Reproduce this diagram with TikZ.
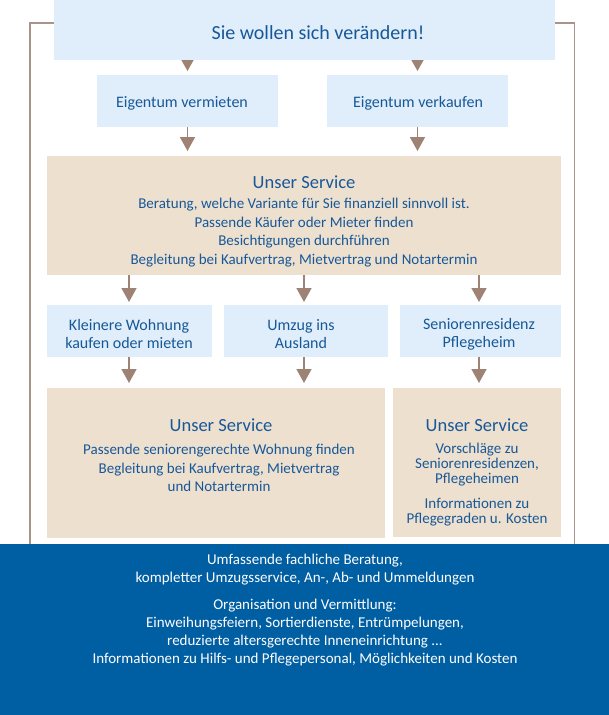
\documentclass[tikz,border=0pt]{standalone}
\usepackage{fontspec}
\setmainfont{Carlito}
\usetikzlibrary{arrows.meta}
\definecolor{lblue}{RGB}{223,238,250}
\definecolor{beige}{RGB}{237,224,207}
\definecolor{tblue}{RGB}{24,88,152}
\definecolor{dblue}{RGB}{0,94,162}
\definecolor{arr}{RGB}{158,131,116}
\definecolor{brk}{RGB}{168,148,136}
\begin{document}
\begin{tikzpicture}[x=1pt,y=-1pt,
  box/.style={inner sep=0pt, outer sep=0pt, anchor=north west},
  lbbox/.style={box, fill=lblue},
  bgbox/.style={box, fill=beige},
  txt/.style={text=tblue, align=center, inner sep=0pt},
  ttitle/.style={txt, font=\fontsize{20}{24}\selectfont},
  tmid/.style={txt, font=\fontsize{16}{18}\selectfont},
  tserv/.style={txt, font=\fontsize{18.5}{22}\selectfont},
  tbody/.style={txt, font=\fontsize{15}{18.5}\selectfont},
  ttight/.style={txt, font=\fontsize{15}{15}\selectfont},
  twhite/.style={align=center, inner sep=0pt, text=white, font=\fontsize{15}{18}\selectfont},
  headonly/.style={draw=arr, line width=1.5pt, -{Triangle[length=11pt,width=12pt]}},
  stemarrow/.style={draw=arr, line width=1.6pt, -{Triangle[length=14pt,width=15pt]}},
  bracket/.style={draw=brk, line width=1.6pt}
]
\useasboundingbox (0,0) rectangle (609,715);
\fill[white] (0,0) rectangle (609,715);
% boxes
\node[lbbox, minimum width=501pt, minimum height=60pt] (top) at (54,0) {};
\node[lbbox, minimum width=181pt, minimum height=52pt] (ev) at (97,75) {};
\node[lbbox, minimum width=181pt, minimum height=52pt] (ek) at (327,75) {};
\node[bgbox, minimum width=514pt, minimum height=119pt] (s1) at (47,156) {};
\node[lbbox, minimum width=165pt, minimum height=52pt] (ra) at (47,305) {};
\node[lbbox, minimum width=164pt, minimum height=52pt] (rb) at (224,305) {};
\node[lbbox, minimum width=161pt, minimum height=52pt] (rc) at (400,305) {};
\node[bgbox, minimum width=338pt, minimum height=150pt] (s2) at (47,388) {};
\node[bgbox, minimum width=168pt, minimum height=149pt] (s3) at (393,388) {};
\node[box, fill=dblue, minimum width=609pt, minimum height=171pt] (bot) at (0,544) {};
% bracket
\coordinate (bl) at (30,22.7);
\coordinate (br) at (574.3,22.7);
\draw[bracket] (bot.north -| bl) -- (bl) -- (bl -| top.west);
\draw[bracket] (top.east |- br) -- (br) -- (bot.north -| br);
% texts
\node[ttitle] (t0) at (318,33) {Sie wollen sich verändern!};
\node[tmid] (tev) at (182,103) {Eigentum vermieten};
\node[tmid] (tek) at (418,103) {Eigentum verkaufen};
\node[tserv] (ts1) at (304,182) {Unser Service};
\node[tbody] (bs1) at (304,232.5) {Beratung, welche Variante für Sie finanziell sinnvoll ist.\\Passende Käufer oder Mieter finden\\Besichtigungen durchführen\\Begleitung bei Kaufvertrag, Mietvertrag und Notartermin};
\node[tmid] (tra) at (129,334) {Kleinere Wohnung\\kaufen oder mieten};
\node[tmid] (trb) at (301,334) {Umzug ins\\Ausland};
\node[tmid] (trc) at (479,334) {Seniorenresidenz\\Pflegeheim};
\node[tserv] (ts2) at (221,425) {Unser Service};
\node[tbody] (bs2) at (219,468) {Passende seniorengerechte Wohnung finden\\Begleitung bei Kaufvertrag, Mietvertrag\\und Notartermin};
\node[tserv] (ts3) at (477,425) {Unser Service};
\node[ttight] (bs3a) at (477,465) {Vorschläge zu\\Seniorenresidenzen,\\Pflegeheimen};
\node[ttight] (bs3b) at (477,512) {Informationen zu\\Pflegegraden u. Kosten};
\node[twhite] (bb1) at (305,570) {Umfassende fachliche Beratung,\\kompletter Umzugsservice, An-, Ab- und Ummeldungen};
\node[twhite] (bb2) at (305,633) {Organisation und Vermittlung:\\Einweihungsfeiern, Sortierdienste, Entrümpelungen,\\reduzierte altersgerechte Inneneinrichtung ...\\Informationen zu Hilfs- und Pflegepersonal, Möglichkeiten und Kosten};
% arrows
\draw[headonly, shorten >=4pt] (top.south -| ev.north) -- (ev.north);
\draw[headonly, shorten >=4pt] (top.south -| ek.north) -- (ek.north);
\draw[stemarrow, shorten >=5pt] (ev.south) -- (ev.south |- s1.north);
\draw[stemarrow, shorten >=5pt] (ek.south) -- (ek.south |- s1.north);
\coordinate (xa) at (129,0);
\coordinate (xb) at (304,0);
\coordinate (xc) at (479,0);
\draw[stemarrow, shorten >=3pt] (s1.south -| xa) -- (ra.north -| xa);
\draw[stemarrow, shorten >=3pt] (s1.south -| xb) -- (rb.north -| xb);
\draw[stemarrow, shorten >=3pt] (s1.south -| xc) -- (rc.north -| xc);
\draw[stemarrow, shorten >=5pt] (ra.south -| xa) -- (s2.north -| xa);
\draw[stemarrow, shorten >=5pt] (rb.south -| xb) -- (s2.north -| xb);
\draw[stemarrow, shorten >=5pt] (rc.south -| xc) -- (s3.north -| xc);
\end{tikzpicture}
\end{document}
